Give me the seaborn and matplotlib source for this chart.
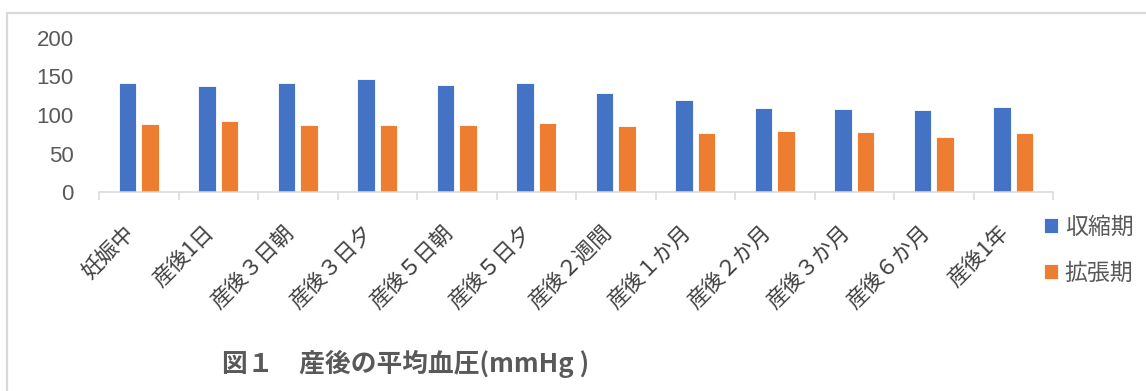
import matplotlib
matplotlib.use("Agg")
import matplotlib.pyplot as plt
import matplotlib.patches as mpatches
import seaborn as sns
import pandas as pd

# Mean blood pressure (mmHg) from pregnancy through one year postpartum
periods = ["妊娠中", "産後1日", "産後３日朝", "産後３日夕", "産後５日朝", "産後５日夕",
           "産後２週間", "産後１か月", "産後２か月", "産後３か月", "産後６か月", "産後1年"]
systolic = [142, 138, 141, 147, 139, 141, 129, 120, 109, 108, 107, 110]
diastolic = [88, 92, 87, 87, 87, 89, 86, 77, 79, 78, 72, 77]
series_names = ["収縮期", "拡張期"]
series_colors = ["#4472C4", "#ED7D31"]
y_ticks = [0, 50, 100, 150, 200]
title_text = "図１　産後の平均血圧(mmHg )"

df = pd.DataFrame({
    "period": periods * 2,
    "value": systolic + diastolic,
    "series": [series_names[0]] * len(periods) + [series_names[1]] * len(periods),
})

sns.set_theme(style="white")
plt.rcParams["font.family"] = ["Noto Sans CJK JP", "DejaVu Sans"]

W, H = 1146, 391
fig = plt.figure(figsize=(W / 100, H / 100), dpi=100)
ax = fig.add_axes([99 / W, 1 - 192 / H, (1053 - 99) / W, (192 - 38) / H])

sns.barplot(data=df, x="period", y="value", hue="series", order=periods,
            hue_order=series_names, palette=series_colors, saturation=1,
            width=0.57, gap=0.22, edgecolor="white", linewidth=0.6, ax=ax, legend=True)

ax.set_ylim(0, 200)
ax.set_xlim(-0.5, len(periods) - 0.5)
ax.set_yticks(y_ticks)
ax.set_xlabel("")
ax.set_ylabel("")

grey = "#595959"
line_grey = "#d9d9d9"
for side in ["left", "right", "top"]:
    ax.spines[side].set_visible(False)
ax.spines["bottom"].set_color(line_grey)
ax.spines["bottom"].set_linewidth(1.1)

ax.tick_params(axis="y", length=0, pad=18, labelsize=16, labelcolor=grey)
for lbl in ax.get_yticklabels():
    lbl.set_family(["Liberation Sans", "DejaVu Sans"])

# category separators below the axis
ax.set_xticks([i - 0.5 for i in range(len(periods) + 1)], minor=True)
ax.tick_params(axis="x", which="minor", length=6, width=1.1, color=line_grey, bottom=True)
ax.tick_params(axis="x", which="major", length=0, pad=21, labelsize=15.5, labelcolor="#404040")
plt.setp(ax.get_xticklabels(), rotation=45, ha="right")

# legend on the right
handles, labels = ax.get_legend_handles_labels()
ax.legend(handles, labels, loc="center left", bbox_to_anchor=(1035 / W, 1 - 250 / H),
          bbox_transform=fig.transFigure, frameon=False, fontsize=16.5,
          handlelength=0.6, handleheight=0.6, handletextpad=0.3,
          labelspacing=1.0, labelcolor=grey, borderaxespad=0)

fig.text(222 / W, 1 - 364 / H, title_text, ha="left", va="center",
         fontsize=18.5, fontweight="bold", color=grey)

# chart frame
fig.add_artist(mpatches.Rectangle((7 / W, -0.2), 1.2, 0.2 + (1 - 13 / H),
                                  transform=fig.transFigure, fill=False,
                                  edgecolor=line_grey, linewidth=1.6))

fig.savefig("out.png", dpi=100, facecolor="white")
